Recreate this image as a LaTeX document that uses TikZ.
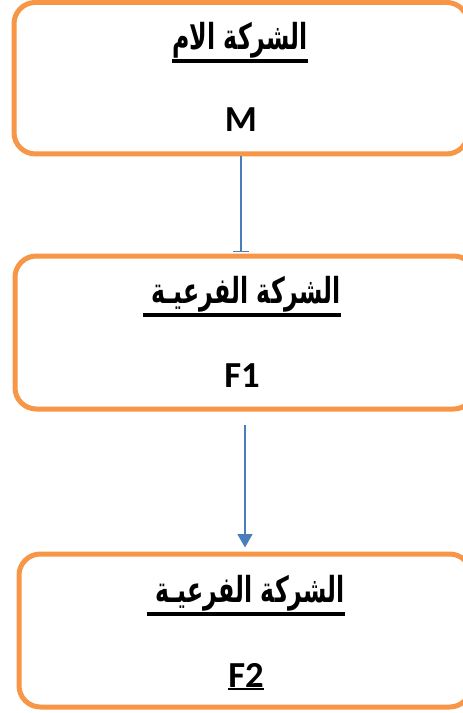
\documentclass[tikz,border=0pt]{standalone}
\usepackage{fontspec}
\usepackage{graphicx}
\setmainfont{Carlito}
\newfontfamily\arabicfont[Script=Arabic]{DejaVu Sans}
\TeXXeTstate=1
\usetikzlibrary{arrows.meta}
\definecolor{boxorange}{RGB}{247,150,70}
\definecolor{linkblue}{RGB}{74,126,187}
\newcommand\thickul[1]{\setbox0=\hbox{\scalebox{0.74}[1.12]{#1}}\rlap{\rule[-10.1pt]{\wd0}{3.1pt}}\box0}
\newcommand\thinul[1]{\setbox0=\hbox{#1}\rlap{\rule[-1.9pt]{\wd0}{1pt}}\box0}
\begin{document}
\begin{tikzpicture}[x=0.75pt,y=-0.75pt,
  entity/.style={draw=boxorange,line width=3.75pt,rounded corners=16pt,fill=white,inner sep=0pt},
  artext/.style={anchor=base,inner sep=0pt,font=\arabicfont\bfseries\fontsize{24}{28}\selectfont},
  latext/.style={anchor=base,inner sep=0pt,font=\bfseries\fontsize{27.5}{32}\selectfont},
  link/.style={draw=linkblue,line width=1.5pt}]
\useasboundingbox (0,0) rectangle (462,713);
\node[entity,minimum width=454*0.75pt,minimum height=151.5*0.75pt] (b1) at (241,78.2) {};
\node[entity,minimum width=460*0.75pt,minimum height=153*0.75pt] (b2) at (245,332.5) {};
\node[entity,minimum width=452*0.75pt,minimum height=153*0.75pt] (b3) at (245,630.5) {};
\node[artext] (t1) at (240,50) {\thickul{\beginR الشركة الام\endR}};
\node[latext] (m) at (241,132) {M};
\node[artext] (t2) at (242,303.5) {\thickul{\beginR الشركة الفرعيـة \endR}};
\node[latext] (f1) at (242,387) {F1};
\node[artext] (t3) at (246,602.5) {\thickul{\beginR الشركة الفرعيـة \endR}};
\node[latext] (f2) at (246,687) {\thinul{F2}};
\draw[link,-{Bar[width=12pt,line width=1pt]},shorten >=1pt] (b1.south) -- (b1.south |- b2.north);
\draw[link,-{Triangle[width=11pt,length=10pt]},shorten <=10pt,shorten >=3pt] (b2.south) -- (b3.north);
\end{tikzpicture}
\end{document}
